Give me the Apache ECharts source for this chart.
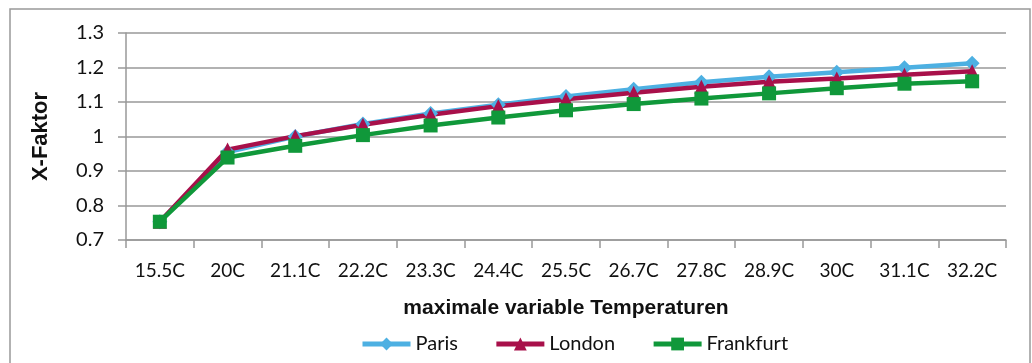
<!DOCTYPE html>
<html><head><meta charset="utf-8">
<script src="https://cdn.jsdelivr.net/npm/echarts@6/dist/echarts.min.js"></script>
<style>html,body{margin:0;padding:0;background:#fff}#c{width:1032px;height:363px}</style>
</head><body><div id="c"></div>
<script>
const categories = ['15.5C','20C','21.1C','22.2C','23.3C','24.4C','25.5C','26.7C','27.8C','28.9C','30C','31.1C','32.2C'];
const paris     = [0.753, 0.955, 1.000, 1.036, 1.067, 1.092, 1.116, 1.137, 1.157, 1.173, 1.186, 1.199, 1.212];
const london    = [0.753, 0.962, 1.001, 1.034, 1.063, 1.088, 1.108, 1.127, 1.144, 1.159, 1.168, 1.179, 1.189];
const frankfurt = [0.753, 0.939, 0.973, 1.004, 1.032, 1.055, 1.076, 1.094, 1.110, 1.125, 1.140, 1.153, 1.160];
const yTicks = { min: 0.7, max: 1.3, interval: 0.1 };

const font = 'Lato, "Open Sans", sans-serif';
const boldFont = '"Liberation Sans", Arial, sans-serif';
const chart = echarts.init(document.getElementById('c'), null, {renderer: 'canvas'});
function ser(name, data, color, symbol, size) {
  return { name, type: 'line', data, symbol, symbolSize: size,
    lineStyle: { color, width: 4.5 }, itemStyle: { color },
    emphasis: { disabled: true }, animation: false };
}
chart.setOption({
  animation: false,
  textStyle: { fontFamily: font },
  graphic: [{ type: 'rect', shape: { x: 10, y: 9, width: 1020, height: 360 },
    style: { fill: 'none', stroke: '#999', lineWidth: 1.5 }, silent: true }],
  grid: { left: 126, right: 26, top: 33, bottom: 123 },
  legend: {
    top: 329, left: 355, itemGap: 36, itemWidth: 48, itemHeight: 16,
    lineStyle: { width: 5 },
    textStyle: { fontSize: 20, color: '#111', fontFamily: font },
    data: ['Paris', 'London', 'Frankfurt']
  },
  xAxis: {
    type: 'category', data: categories, boundaryGap: true,
    name: 'maximale variable Temperaturen', nameLocation: 'middle', nameGap: 58,
    nameTextStyle: { fontSize: 21, fontWeight: 'bold', color: '#111', fontFamily: boldFont },
    axisLine: { lineStyle: { color: '#999', width: 1.5 } },
    axisTick: { show: true, length: 8, inside: false, lineStyle: { color: '#999', width: 1.5 } },
    axisLabel: { fontSize: 19, color: '#111', margin: 21, interval: 0 }
  },
  yAxis: {
    type: 'value', min: yTicks.min, max: yTicks.max, interval: yTicks.interval,
    name: 'X-Faktor', nameLocation: 'middle', nameGap: 74, nameRotate: 90,
    nameTextStyle: { fontSize: 22, fontWeight: 'bold', color: '#111', fontFamily: boldFont },
    axisLine: { show: true, lineStyle: { color: '#999', width: 1.5 } },
    axisTick: { show: true, length: 8, lineStyle: { color: '#999', width: 1.5 } },
    splitLine: { lineStyle: { color: '#999', width: 1.5 } },
    axisLabel: { fontSize: 20, color: '#111', margin: 22,
      formatter: v => String(Math.round(v * 10) / 10) }
  },
  series: [
    ser('Paris', paris, '#4DB0E2', 'diamond', 15),
    ser('London', london, '#A8104A', 'triangle', 14),
    ser('Frankfurt', frankfurt, '#10983A', 'rect', 14)
  ]
});
</script></body></html>
